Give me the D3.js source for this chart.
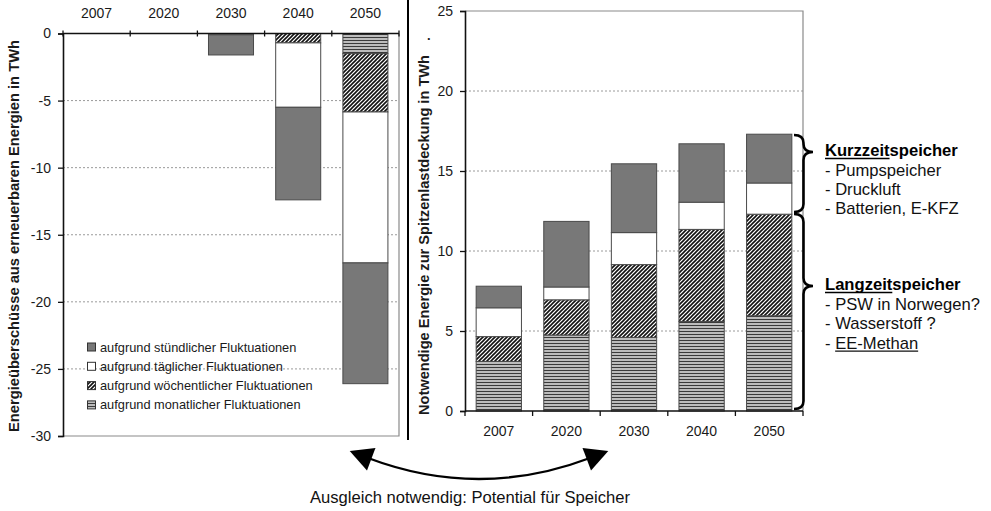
<!DOCTYPE html>
<html><head><meta charset="utf-8">
<script src="https://cdn.jsdelivr.net/npm/d3@7"></script>
<style>
html,body{margin:0;padding:0;background:#fff;}
svg{display:block;font-family:"Liberation Sans",Arial,sans-serif;}
</style></head>
<body>
<svg id="c" width="991" height="511"></svg>
<script>
// ---------- data ----------
const years = ["2007","2020","2030","2040","2050"];
const seriesNames = ["aufgrund stündlicher Fluktuationen","aufgrund täglicher Fluktuationen","aufgrund wöchentlicher Fluktuationen","aufgrund monatlicher Fluktuationen"];
// left chart: energy surplus (TWh)
const surplusMonthly = [0, 0, 0, 0, -1.5];
const surplusWeekly  = [0, 0, 0, -0.7, -4.35];
const surplusDaily   = [0, 0, -0.1, -4.8, -11.25];
const surplusHourly  = [0, 0, -1.5, -6.9, -9.0];
// right chart: energy for peak load coverage (TWh)
const storageMonthly = [3.1, 4.75, 4.6, 5.6, 5.95];
const storageWeekly  = [1.55, 2.2, 4.55, 5.75, 6.35];
const storageDaily   = [1.8, 0.8, 2.0, 1.7, 1.95];
const storageHourly  = [1.35, 4.1, 4.3, 3.65, 3.05];
const leftTicks = [0,-5,-10,-15,-20,-25,-30];
const rightTicks = [0,5,10,15,20,25];
const kurzLines = ["- Pumpspeicher","- Druckluft","- Batterien, E-KFZ"];
const langLines = ["- PSW in Norwegen?","- Wasserstoff ?"];
const langUnderlined = "EE-Methan";

const svg = d3.select("#c");
const defs = svg.append("defs");
// diagonal hatch
const pd = defs.append("pattern").attr("id","diag").attr("patternUnits","userSpaceOnUse").attr("width",4).attr("height",4);
pd.append("rect").attr("width",4).attr("height",4).attr("fill","#fff");
pd.append("path").attr("d","M-1,1 l2,-2 M0,4 l4,-4 M3,5 l2,-2").attr("stroke","#111").attr("stroke-width",1.6);
// horizontal lines
const ph = defs.append("pattern").attr("id","horiz").attr("patternUnits","userSpaceOnUse").attr("width",4).attr("height",3);
ph.append("rect").attr("width",4).attr("height",3).attr("fill","#f4f4f4");
ph.append("line").attr("x1",0).attr("x2",4).attr("y1",1.5).attr("y2",1.5).attr("stroke","#3a3a3a").attr("stroke-width",1.6);

const keys = ["monthly","weekly","daily","hourly"];
const fills = {hourly:"#787878", daily:"#fff", weekly:"url(#diag)", monthly:"url(#horiz)"};
const textCol = "#1a1a1a";
const FONT = "Liberation Sans, Arial, sans-serif";

function rows(m,w,d,h){ return years.map((y,i)=>({year:y, monthly:m[i], weekly:w[i], daily:d[i], hourly:h[i]})); }

function drawChart(cfg){
  const g = svg.append("g");
  const x = d3.scaleBand().domain(years).range([cfg.x0,cfg.x1]).paddingInner(0.33).paddingOuter(0.165);
  const y = d3.scaleLinear().domain(cfg.domain).range([cfg.yBottom,cfg.yTop]);
  // grid
  g.selectAll(".grid").data(cfg.grid).join("line")
    .attr("x1",cfg.x0).attr("x2",cfg.x1).attr("y1",d=>y(d)).attr("y2",d=>y(d))
    .attr("stroke","#9a9a9a").attr("stroke-dasharray","2,2").attr("stroke-width",1);
  // frame (gray)
  g.append("path").attr("d",cfg.frame(x,y)).attr("fill","none").attr("stroke","#8a8a8a").attr("stroke-width",1.2);
  // bars
  const st = d3.stack().keys(keys).offset(d3.stackOffsetDiverging)(rows(...cfg.data));
  st.forEach(s=>{
    g.append("g").selectAll("rect").data(s.filter(d=>d[1]!==d[0])).join("rect")
      .attr("x",d=>x(d.data.year)).attr("width",x.bandwidth())
      .attr("y",d=>y(Math.max(d[0],d[1]))).attr("height",d=>Math.abs(y(d[0])-y(d[1])))
      .attr("fill",fills[s.key]).attr("stroke","#4a4a4a").attr("stroke-width",1);
  });
  // y axis
  const ya = g.append("g").attr("transform",`translate(${cfg.x0},0)`)
    .call(d3.axisLeft(y).tickValues(cfg.ticks).tickSize(5).tickPadding(7).tickFormat(d=>String(d)));
  ya.select(".domain").attr("stroke","#111").attr("stroke-width",1.6);
  ya.selectAll(".tick line").attr("stroke","#111").attr("stroke-width",1.3);
  ya.selectAll(".tick text").attr("font-size",14).attr("fill",textCol).attr("font-family",FONT);
  // x axis line + boundary ticks
  const yAx = y(0);
  g.append("line").attr("x1",cfg.x0).attr("x2",cfg.x1).attr("y1",yAx).attr("y2",yAx).attr("stroke","#111").attr("stroke-width",1.6);
  const step = x.step();
  const bounds = years.map(d=>x(d)-step*x.paddingInner()/2).concat([x(years[4])+x.bandwidth()+step*x.paddingInner()/2]);
  g.selectAll(".xt").data(bounds).join("line")
    .attr("x1",d=>d).attr("x2",d=>d).attr("y1",yAx+cfg.tickA).attr("y2",yAx+cfg.tickB)
    .attr("stroke","#111").attr("stroke-width",1.3);
  g.selectAll(".xl").data(years).join("text")
    .attr("x",d=>x(d)+x.bandwidth()/2).attr("y",cfg.labelY)
    .attr("text-anchor","middle").attr("font-size",14).attr("fill",textCol).text(d=>d);
  // y title
  g.append("text").attr("transform",`translate(${cfg.titleX},${cfg.titleY}) rotate(-90)`)
    .attr("text-anchor","middle").attr("font-size",14).attr("font-weight","bold").attr("fill",textCol)
    .attr("textLength",cfg.titleLen).attr("lengthAdjust","spacingAndGlyphs").text(cfg.title);
  return {x,y,g};
}

const L = drawChart({
  x0:63, x1:399, yTop:33.5, yBottom:436, domain:[-30,0], ticks:leftTicks, grid:[-5,-10,-15,-20,-25],
  data:[surplusMonthly,surplusWeekly,surplusDaily,surplusHourly],
  frame:(x,y)=>`M399,${y(0)} L399,${y(-30)} L63,${y(-30)}`,
  tickA:-3, tickB:3, labelY:18, titleX:19, titleY:236, titleLen:392,
  title:"Energieüberschüsse aus erneuerbaren Energien in TWh"
});
const R = drawChart({
  x0:465, x1:803, yTop:11, yBottom:411, domain:[0,25], ticks:rightTicks, grid:[5,10,15,20],
  data:[storageMonthly,storageWeekly,storageDaily,storageHourly],
  frame:(x,y)=>`M465,${y(25)} L803,${y(25)} L803,${y(0)}`,
  tickA:0, tickB:5, labelY:436, titleX:429, titleY:235, titleLen:360,
  title:"Notwendige Energie zur Spitzenlastdeckung in TWh"
});
svg.append("text").attr("x",427).attr("y",40).attr("font-size",13).attr("font-weight","bold").attr("fill",textCol).text(".");

// legend
const lg = svg.append("g");
const legendOrder = ["hourly","daily","weekly","monthly"];
legendOrder.forEach((k,i)=>{
  const cy = 347 + i*19.3;
  lg.append("rect").attr("x",87.5).attr("y",cy-4).attr("width",8).attr("height",8)
    .attr("fill",fills[k]).attr("stroke","#333").attr("stroke-width",1);
  lg.append("text").attr("x",100).attr("y",cy+4.5).attr("font-size",12.8).attr("fill",textCol).text(seriesNames[i]);
});

// divider
svg.append("line").attr("x1",408).attr("x2",408).attr("y1",0).attr("y2",440).attr("stroke","#000").attr("stroke-width",2);

// braces
function brace(xb, y0, y1, yt, w){
  const m = xb + w/2, r = 8;
  return `M${xb},${y0} Q${m},${y0} ${m},${y0+r} L${m},${yt-r} Q${m},${yt} ${xb+w},${yt} Q${m},${yt} ${m},${yt+r} L${m},${y1-r} Q${m},${y1} ${xb},${y1}`;
}
svg.append("path").attr("d",brace(794,135,212,152,19)).attr("fill","none").attr("stroke","#000").attr("stroke-width",2.6);
svg.append("path").attr("d",brace(794,214,409,286,19)).attr("fill","none").attr("stroke","#000").attr("stroke-width",2.6);

const AFS = 16.6;
function heading(y, under, rest){
  const t = svg.append("text").attr("x",825).attr("y",y).attr("font-size",AFS).attr("font-weight","bold").attr("fill","#000");
  const u = t.append("tspan").text(under);
  t.append("tspan").text(rest);
  const w = u.node().getComputedTextLength();
  svg.append("line").attr("x1",825).attr("x2",825+w).attr("y1",y+2.5).attr("y2",y+2.5).attr("stroke","#000").attr("stroke-width",1.4);
}
heading(156,"Kurzzeit","speicher");
kurzLines.forEach((s,i)=>svg.append("text").attr("x",825).attr("y",175.5+i*19.3).attr("font-size",AFS).attr("fill","#111").text(s));
heading(290,"Langzeit","speicher");
langLines.forEach((s,i)=>svg.append("text").attr("x",825).attr("y",310+i*19.3).attr("font-size",AFS).attr("fill","#111").text(s));
{
  const yy = 310+2*19.3;
  const t = svg.append("text").attr("x",825).attr("y",yy).attr("font-size",AFS).attr("fill","#111");
  const a = t.append("tspan").text("- ");
  const b = t.append("tspan").text(langUnderlined);
  const wa = a.node().getComputedTextLength(), wb = b.node().getComputedTextLength();
  svg.append("line").attr("x1",825+wa).attr("x2",825+wa+wb).attr("y1",yy+2.5).attr("y2",yy+2.5).attr("stroke","#111").attr("stroke-width",1.2);
}

// curved double arrow
const p0=[368,458], pc=[479,500], p1=[590,458];
svg.append("path").attr("d",`M${p0} Q${pc} ${p1}`).attr("fill","none").attr("stroke","#000").attr("stroke-width",2.4);
function head(p, c){
  const dx=p[0]-c[0], dy=p[1]-c[1], L=Math.hypot(dx,dy), ux=dx/L, uy=dy/L;
  const len=23, hw=12;
  const tip=[p[0]+ux*len*0.85, p[1]+uy*len*0.85];
  const b=[p[0]-ux*len*0.15, p[1]-uy*len*0.15];
  return `M${tip} L${b[0]-uy*hw},${b[1]+ux*hw} L${b[0]+uy*hw},${b[1]-ux*hw} Z`;
}
svg.append("path").attr("d",head(p0,pc)).attr("fill","#000");
svg.append("path").attr("d",head(p1,pc)).attr("fill","#000");
svg.append("text").attr("x",470).attr("y",503).attr("text-anchor","middle").attr("font-size",AFS).attr("fill","#111")
  .text("Ausgleich notwendig: Potential für Speicher");
</script>
</body></html>
